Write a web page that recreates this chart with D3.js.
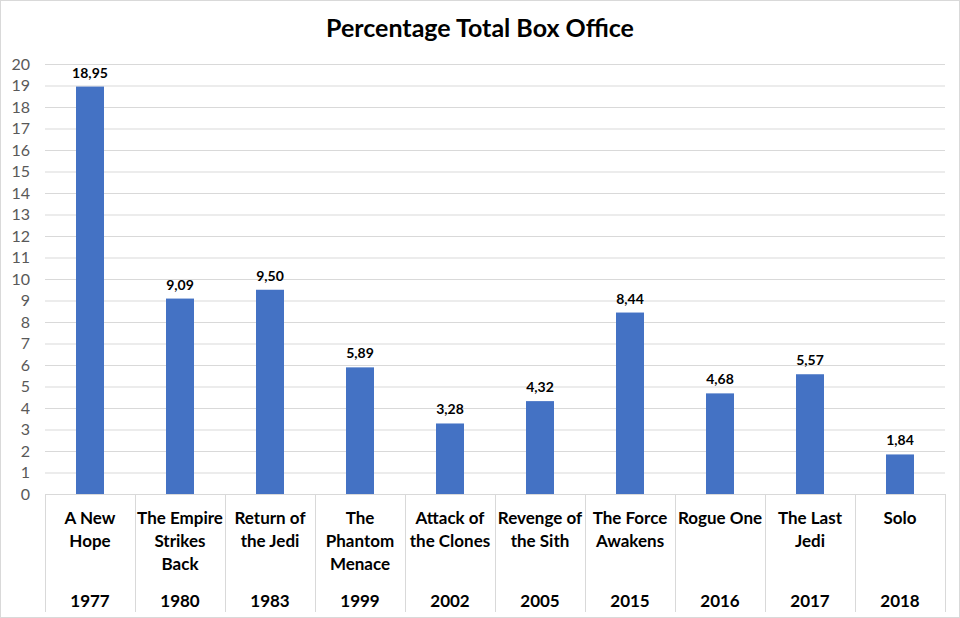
<!DOCTYPE html>
<html>
<head>
<meta charset="utf-8">
<script src="https://cdn.jsdelivr.net/npm/d3@7"></script>
<style>
  body { margin: 0; background: #fff; }
  svg { display: block; font-family: Lato, "Open Sans", sans-serif; }
</style>
</head>
<body>
<div class="canva"></div>
<script>
// chart data
const films = [
  ["A New", "Hope"],
  ["The Empire", "Strikes", "Back"],
  ["Return of", "the Jedi"],
  ["The", "Phantom", "Menace"],
  ["Attack of", "the Clones"],
  ["Revenge of", "the Sith"],
  ["The Force", "Awakens"],
  ["Rogue One"],
  ["The Last", "Jedi"],
  ["Solo"]
];
const years = ["1977", "1980", "1983", "1999", "2002", "2005", "2015", "2016", "2017", "2018"];
const share = [18.95, 9.09, 9.50, 5.89, 3.28, 4.32, 8.44, 4.68, 5.57, 1.84];
const yTicks = d3.range(0, 21, 1);

const width = 960, height = 618;
const plotLeft = 45, plotRight = 945, plotTop = 64, plotBottom = 494;

const svg = d3.select(".canva").append("svg")
    .attr("width", width)
    .attr("height", height);

// outer border
svg.append("rect")
    .attr("x", 0.5).attr("y", 0.5)
    .attr("width", width - 1).attr("height", height - 1)
    .attr("fill", "none").attr("stroke", "#d9d9d9");

const x = d3.scaleBand().domain(years).range([plotLeft, plotRight]);
const y = d3.scaleLinear().domain([0, 20]).range([plotBottom, plotTop]);

// title
svg.append("text")
    .attr("x", width / 2).attr("y", 37)
    .attr("text-anchor", "middle")
    .attr("font-size", 25).attr("font-weight", "bold")
    .attr("fill", "#000")
    .text("Percentage Total Box Office");

// gridlines
svg.append("g").selectAll("line")
    .data(yTicks.slice(1))
    .enter().append("line")
    .attr("x1", plotLeft).attr("x2", plotRight)
    .attr("y1", d => y(d) + 0.5).attr("y2", d => y(d) + 0.5)
    .attr("stroke", "#d9d9d9");

// y axis labels
const yAxis = svg.append("g")
    .attr("transform", `translate(${plotLeft - 15},0)`)
    .call(d3.axisLeft(y).tickValues(yTicks).tickSize(0).tickPadding(0));
yAxis.select(".domain").remove();
yAxis.selectAll("text")
    .attr("font-family", "Lato, 'Open Sans', sans-serif")
    .attr("font-size", 16).attr("fill", "#595959");

// bars
const barW = 28;
svg.append("g").selectAll("rect")
    .data(share)
    .enter().append("rect")
    .attr("x", (d, i) => x(years[i]) + x.bandwidth() / 2 - barW / 2)
    .attr("y", d => y(d))
    .attr("width", barW)
    .attr("height", d => plotBottom - y(d))
    .attr("fill", "#4472c4");

// value labels
svg.append("g").selectAll("text")
    .data(share)
    .enter().append("text")
    .attr("x", (d, i) => x(years[i]) + x.bandwidth() / 2)
    .attr("y", d => y(d) - 9)
    .attr("text-anchor", "middle")
    .attr("font-size", 14).attr("font-weight", "bold")
    .attr("fill", "#000")
    .text(d => d.toFixed(2).replace(".", ","));

// axis baseline and category separators
svg.append("line")
    .attr("x1", plotLeft).attr("x2", plotRight)
    .attr("y1", plotBottom + 0.5).attr("y2", plotBottom + 0.5)
    .attr("stroke", "#d9d9d9");
svg.append("g").selectAll("line")
    .data(years.map(d => x(d)).concat([plotRight]))
    .enter().append("line")
    .attr("x1", d => d + 0.5).attr("x2", d => d + 0.5)
    .attr("y1", plotBottom).attr("y2", 612)
    .attr("stroke", "#d9d9d9");

// category names
const names = svg.append("g").selectAll("text")
    .data(films)
    .enter().append("text")
    .attr("text-anchor", "middle")
    .attr("font-size", 17).attr("font-weight", "bold")
    .attr("fill", "#000");
names.selectAll("tspan")
    .data((d, i) => d.map(t => ({t, i})))
    .enter().append("tspan")
    .attr("x", d => x(years[d.i]) + x.bandwidth() / 2)
    .attr("y", (d, j) => 524 + j * 23)
    .text(d => d.t);

// years
svg.append("g").selectAll("text")
    .data(years)
    .enter().append("text")
    .attr("x", d => x(d) + x.bandwidth() / 2)
    .attr("y", 607)
    .attr("text-anchor", "middle")
    .attr("font-size", 17).attr("font-weight", "bold")
    .attr("fill", "#000")
    .text(d => d);
</script>
</body>
</html>
